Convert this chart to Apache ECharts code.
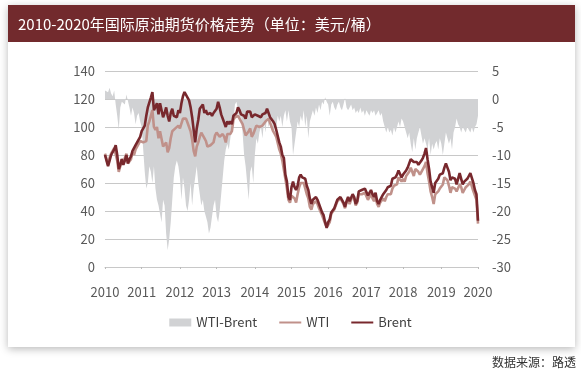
<!DOCTYPE html>
<html><head><meta charset="utf-8">
<script src="https://cdn.jsdelivr.net/npm/echarts@6/dist/echarts.min.js"></script>
<style>html,body{margin:0;padding:0;background:#fff}#c{width:581px;height:371px}</style>
</head><body><div id="c"></div>
<script>
// Semi-monthly readings, Jan 2010 – Mar 2020
const tickLabels = ['2010','2011','2012','2013','2014','2015','2016','2017','2018','2019','2020'];
const brent = [
 80,76,72,76,80,80,84,87,80,70,73,77,73,76,80,74,77,79,83,82,87,86,91,93,
 97,97,101,108,114,114,121,125,112,113,117,109,117,117,107,110,114,108,104,110,113,108,107,107,
 112,110,117,122,125,124,121,119,114,107,98,89,99,105,113,114,116,110,112,109,108,110,108,110,
 111,113,118,114,109,108,103,100,104,102,104,102,108,108,110,114,112,109,110,108,106,111,110,111,
 107,108,109,110,108,107,107,109,109,110,113,114,107,107,104,102,98,97,89,86,80,78,66,61,
 50,48,57,61,57,55,58,64,66,64,63,63,58,55,49,45,48,48,50,48,45,44,39,37,
 32,28,32,34,39,40,42,45,48,49,50,48,46,43,47,50,47,47,52,50,45,47,54,55,
 55,55,56,56,51,51,55,52,50,53,47,45,48,49,52,52,55,57,57,58,63,63,64,66,
 69,70,64,66,65,69,71,74,77,78,75,76,75,73,72,76,78,81,85,77,70,61,60,53,
 60,61,63,66,67,67,71,74,71,68,62,64,65,63,59,59,67,63,59,61,62,63,65,67,
 68,60,55,52,33
];
const wti = [
 81,77,73,78,81,81,85,86,76,68,72,77,75,76,81,74,75,77,82,80,84,83,88,90,
 91,89,88,90,101,104,108,112,100,98,100,92,97,98,86,87,89,82,85,92,97,98,99,99,
 101,99,100,106,106,106,103,103,97,91,83,79,86,89,93,96,97,92,90,86,86,87,86,89,
 94,96,97,93,92,95,93,89,95,95,95,97,105,107,107,108,108,104,102,98,94,94,97,99,
 93,95,98,101,100,100,100,101,102,104,103,106,103,102,97,95,93,92,84,81,76,75,63,56,
 48,46,51,50,49,46,52,57,60,59,60,59,52,49,43,41,45,45,47,45,42,41,37,36,
 31,28.5,30,32,38,39,41,44,47,48,49,47,45,42,46,48,45,46,51,49,44,46,52,53,
 52,53,53,54,48,48,52,49,47,50,45,43,46,47,49,47,50,52,51,52,56,58,57,59,
 64,65,61,63,61,65,66,68,71,68,65,70,71,68,66,68,69,72,75,67,61,54,50,45,
 52,53,54,56,57,59,64,65,62,58,53,57,58,56,54,55,59,57,53,55,57,58,59,61,
 62,54,51,48,31
];
const spread = [
 1.5,1.8,1.2,2.0,1.0,0.5,1.5,-1.0,-3.0,-5.5,-1.5,-0.5,-0.3,-1.0,0.8,1.0,-1.5,-3.0,-1.5,-2.5,-4.5,-3.0,-2.5,-4.0,
 -5,-9,-13,-16,-15,-12,-13,-15,-12,-16,-18,-19,-19,-22,-18,-19,-24,-27,-25,-22,-18,-14,-12,-11,
 -12,-14,-18,-14,-16,-19,-20,-18,-15,-19,-16,-14,-12,-15,-17,-19,-18,-20,-21,-22,-24,-23,-21,-19,
 -18,-21,-22,-20,-17,-14,-11,-9,-8,-9,-7,-5,-4,-1,-0.5,-2,-4,-3,-6,-10,-12,-15,-18,-13,
 -12,-15,-10,-7,-8,-6,-5,-7,-4,-6,-3,-5,-4,-3,-6,-4,-5,-3,-4,-3,-5,-3,-2,-4,
 -2,-4,-5,-10,-8,-6,-4,-5,-3,-4,-2,-5,-3,-7,-4,-3,-2,-3,-1.5,-2.5,-1,-2,-0.5,-1,
 0.3,-0.5,-1,-3,-1,-0.5,-1.5,-2,-1,-0.5,-1.5,-2,-1,0.2,-1.5,-2,-1.5,-1,-2,-1.5,-2.5,-2,-2.5,-1.5,
 -2.5,-2,-3,-2,-2.5,-3,-2,-2.5,-2,-3,-2.5,-2,-3,-2.5,-4,-5,-6,-5,-6,-5.5,-6.5,-5,-6,-5,
 -4,-5,-3.5,-4,-5,-6,-7,-6,-8,-9.5,-7,-9,-7,-6,-5,-6.5,-8,-7,-8,-9,-7,-10,-8,-9,
 -8,-7.5,-9,-7,-8,-10,-8,-6,-7,-8,-7,-9,-6,-5,-3.5,-4.5,-5,-6,-5,-5.5,-6,-5,-5.5,-6,
 -5,-6,-5,-4.5,-3
];

const categories = [];
for (let y = 2010; y <= 2020; y++) for (let m = 1; m <= 12; m++) for (const h of ['上', '下']) {
  if (categories.length < brent.length) categories.push(y + '-' + m + h);
}
const N = categories.length;
const labelAt = {};
tickLabels.forEach((t, k) => { labelAt[Math.round(k * (N - 1) / (tickLabels.length - 1))] = t; });

const FONT = 'Noto Sans CJK SC';
const LINE_ICON = 'path://M0,0 L22,0 L22,2 L0,2 Z';
const chart = echarts.init(document.getElementById('c'), null, {renderer: 'canvas'});
chart.setOption({
  animation: false,
  backgroundColor: '#fff',
  textStyle: {fontFamily: FONT},
  graphic: [
    {type: 'rect', z: -10, shape: {x: 8, y: 5, width: 567, height: 342},
     style: {fill: '#fff', shadowBlur: 8, shadowColor: 'rgba(0,0,0,0.28)', shadowOffsetY: 2}},
    {type: 'rect', z: -9, shape: {x: 8, y: 5, width: 567, height: 37}, style: {fill: '#722a2d'}},
    {type: 'text', z: 10, style: {x: 18, y: 24, text: '2010-2020年国际原油期货价格走势（单位：美元/桶）',
      fill: '#fff', font: '15px "Noto Sans CJK SC"', textVerticalAlign: 'middle'}},
    {type: 'text', z: 10, style: {x: 576, y: 362, text: '数据来源：路透', fill: '#333',
      font: '12px "Noto Sans CJK SC"', textAlign: 'right', textVerticalAlign: 'middle'}}
  ],
  legend: {
    left: 'center', top: 311, itemWidth: 22, itemHeight: 8, itemGap: 22, symbolKeepAspect: true,
    textStyle: {fontSize: 13, color: '#404040', fontFamily: FONT},
    data: [{name: 'WTI-Brent', icon: 'rect'}, {name: 'WTI', icon: LINE_ICON}, {name: 'Brent', icon: LINE_ICON}]
  },
  grid: {left: 105, right: 103, top: 71, bottom: 104},
  xAxis: {
    type: 'category', data: categories, boundaryGap: false,
    axisLine: {show: true, lineStyle: {color: '#c8c8c8'}},
    axisTick: {show: true, inside: false, length: 2, lineStyle: {color: '#bbb'}, interval: (i) => (i in labelAt)},
    axisLabel: {interval: (i) => (i in labelAt), formatter: (v, i) => labelAt[i] || '',
      color: '#595959', fontSize: 13, margin: 19, fontFamily: FONT}
  },
  yAxis: [
    {type: 'value', min: 0, max: 140, interval: 20,
     axisLine: {show: false}, axisTick: {show: false},
     axisLabel: {color: '#595959', fontSize: 13, margin: 10, fontFamily: FONT},
     splitLine: {lineStyle: {color: '#c8c8c8', width: 1}}},
    {type: 'value', min: -30, max: 5, interval: 5, position: 'right',
     axisLine: {show: false}, axisTick: {show: false},
     axisLabel: {color: '#595959', fontSize: 13, margin: 14, fontFamily: FONT},
     splitLine: {show: false}}
  ],
  series: [
    {name: 'WTI-Brent', type: 'line', yAxisIndex: 1, data: spread, symbol: 'none',
     lineStyle: {width: 0, color: '#d1d2d4'}, itemStyle: {color: '#d1d2d4'},
     areaStyle: {color: '#d1d2d4', opacity: 1}},
    {name: 'WTI', type: 'line', yAxisIndex: 0, data: wti, symbol: 'none',
     lineStyle: {width: 2.6, color: '#c0918a'}, itemStyle: {color: '#c0918a'}},
    {name: 'Brent', type: 'line', yAxisIndex: 0, data: brent, symbol: 'none',
     lineStyle: {width: 2.6, color: '#78282d'}, itemStyle: {color: '#78282d'}}
  ]
});
</script></body></html>
